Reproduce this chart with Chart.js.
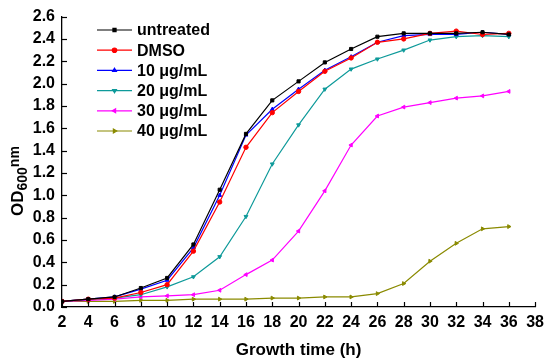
<!DOCTYPE html>
<html>
<head>
<meta charset="utf-8">
<script src="https://cdn.jsdelivr.net/npm/chart.js@4.4.1/dist/chart.umd.min.js"></script>
<style>
  html, body { margin: 0; padding: 0; background: #fff; }
  #wrap { width: 550px; height: 364px; position: relative; }
</style>
</head>
<body>
<div id="wrap"><canvas id="c" width="550" height="364"></canvas></div>
<script>
const hours = [2, 4, 6, 8, 10, 12, 14, 16, 18, 20, 22, 24, 26, 28, 30, 32, 34, 36];
const seriesNames = ["untreated", "DMSO", "10 \u03bcg/mL", "20 \u03bcg/mL", "30 \u03bcg/mL", "40 \u03bcg/mL"];
const untreated = [0.05, 0.07, 0.09, 0.17, 0.26, 0.56, 1.05, 1.55, 1.85, 2.02, 2.19, 2.31, 2.42, 2.45, 2.45, 2.45, 2.46, 2.44];
const dmso      = [0.05, 0.07, 0.08, 0.13, 0.20, 0.50, 0.94, 1.43, 1.74, 1.93, 2.11, 2.23, 2.37, 2.40, 2.45, 2.47, 2.44, 2.45];
const c10       = [0.05, 0.07, 0.09, 0.16, 0.24, 0.53, 1.00, 1.54, 1.77, 1.95, 2.12, 2.24, 2.37, 2.43, 2.44, 2.44, 2.46, 2.44];
const c20       = [0.05, 0.07, 0.08, 0.11, 0.18, 0.27, 0.45, 0.81, 1.28, 1.63, 1.95, 2.13, 2.22, 2.30, 2.39, 2.42, 2.43, 2.42];
const c30       = [0.05, 0.06, 0.07, 0.09, 0.10, 0.11, 0.15, 0.29, 0.42, 0.68, 1.04, 1.45, 1.71, 1.79, 1.83, 1.87, 1.89, 1.93];
const c40       = [0.05, 0.05, 0.05, 0.06, 0.06, 0.07, 0.07, 0.07, 0.08, 0.08, 0.09, 0.09, 0.12, 0.21, 0.41, 0.57, 0.70, 0.72];
const xTickMin = 2, xTickMax = 38, xStep = 2;
const yTickMin = 0, yTickMax = 2.6, yStep = 0.2;

const seriesValues = [untreated, dmso, c10, c20, c30, c40];
const colors = ["#000000", "#ff0000", "#0000ff", "#0e9a9a", "#ff00ff", "#8a8a00"];
const styles = ["rect", "circle", "triangle", "triangle", "triangle", "triangle"];
const rotations = [0, 0, 0, 180, 270, 90];

const datasets = seriesValues.map((vals, i) => ({
  label: seriesNames[i],
  data: vals.map((v, j) => ({ x: hours[j], y: v })),
  borderColor: colors[i],
  backgroundColor: colors[i],
  borderWidth: 1.2,
  pointStyle: styles[i],
  pointRotation: rotations[i],
  pointRadius: 2.2,
  pointBorderWidth: 1,
  tension: 0,
  fill: false
}));

const FONT = "'Liberation Sans', Arial, sans-serif";

const innerTicks = {
  id: 'innerTicks',
  afterDraw(chart) {
    const ctx = chart.ctx;
    const xs = chart.scales.x, ys = chart.scales.y;
    const ca = chart.chartArea;
    ctx.save();
    ctx.strokeStyle = '#000';
    ctx.lineWidth = 1.2;
    xs.ticks.forEach(t => {
      const px = Math.round(xs.getPixelForValue(t.value)) + 0.5;
      ctx.beginPath();
      ctx.moveTo(px, ca.bottom);
      ctx.lineTo(px, ca.bottom - 5);
      ctx.stroke();
    });
    ys.ticks.forEach(t => {
      const py = Math.round(ys.getPixelForValue(t.value)) + 0.5;
      ctx.beginPath();
      ctx.moveTo(ca.left, py);
      ctx.lineTo(ca.left + 5, py);
      ctx.stroke();
    });
    ctx.restore();
  }
};

const yTitle = {
  id: 'yTitle',
  afterDraw(chart) {
    const ctx = chart.ctx;
    ctx.save();
    ctx.translate(23, 216);
    ctx.rotate(-Math.PI / 2);
    ctx.fillStyle = '#000';
    ctx.textAlign = 'left';
    ctx.textBaseline = 'alphabetic';
    ctx.font = 'bold 17px ' + FONT;
    ctx.fillText('OD', 0, 0);
    let w = ctx.measureText('OD').width;
    ctx.font = 'bold 14px ' + FONT;
    ctx.fillText('600', w, 4);
    w += ctx.measureText('600').width;
    ctx.fillText('nm', w, -4);
    ctx.restore();
  }
};

const legendPlugin = {
  id: 'customLegend',
  afterDatasetsDraw(chart) {
    const ctx = chart.ctx;
    ctx.save();
    chart.data.datasets.forEach((ds, i) => {
      const y = 30 + i * 20.2;
      ctx.strokeStyle = ds.borderColor;
      ctx.lineWidth = 1.2;
      ctx.beginPath();
      ctx.moveTo(97, y);
      ctx.lineTo(132, y);
      ctx.stroke();
      ctx.fillStyle = ds.backgroundColor;
      Chart.helpers.drawPoint(ctx, {
        pointStyle: ds.pointStyle, rotation: ds.pointRotation, radius: 2.2, borderWidth: 1
      }, 114.5, y);
      ctx.fillStyle = '#000';
      ctx.font = 'bold 16px ' + FONT;
      ctx.textAlign = 'left';
      ctx.textBaseline = 'middle';
      ctx.fillText(ds.label, 137, y + 1);
    });
    ctx.restore();
  }
};

new Chart(document.getElementById('c'), {
  type: 'line',
  data: { datasets },
  options: {
    responsive: false,
    animation: false,
    devicePixelRatio: 1,
    layout: { padding: { top: 13, right: 13, left: 0, bottom: 0 } },
    plugins: {
      legend: { display: false },
      tooltip: { enabled: false }
    },
    scales: {
      x: {
        type: 'linear',
        min: xTickMin, max: xTickMax,
        ticks: {
          stepSize: xStep, color: '#000', padding: 6,
          font: { family: FONT, size: 16, weight: 'bold' },
          maxRotation: 0, autoSkip: false
        },
        grid: { display: false, drawTicks: false },
        border: { display: true, color: '#000', width: 1.3 },
        title: {
          display: true, text: 'Growth time (h)', color: '#000',
          font: { family: FONT, size: 17, weight: 'bold' },
          padding: { top: 0, bottom: 3 }
        },
        afterFit(s) { s.height = 57; }
      },
      y: {
        type: 'linear',
        min: yTickMin, max: yTickMax,
        ticks: {
          stepSize: yStep, color: '#000', padding: 7,
          font: { family: FONT, size: 16, weight: 'bold' },
          callback: v => Number(v).toFixed(1), autoSkip: false
        },
        grid: { display: false, drawTicks: false },
        border: { display: true, color: '#000', width: 1.3 },
        afterFit(s) { s.width = 62; }
      }
    }
  },
  plugins: [innerTicks, yTitle, legendPlugin]
});
</script>
</body>
</html>
